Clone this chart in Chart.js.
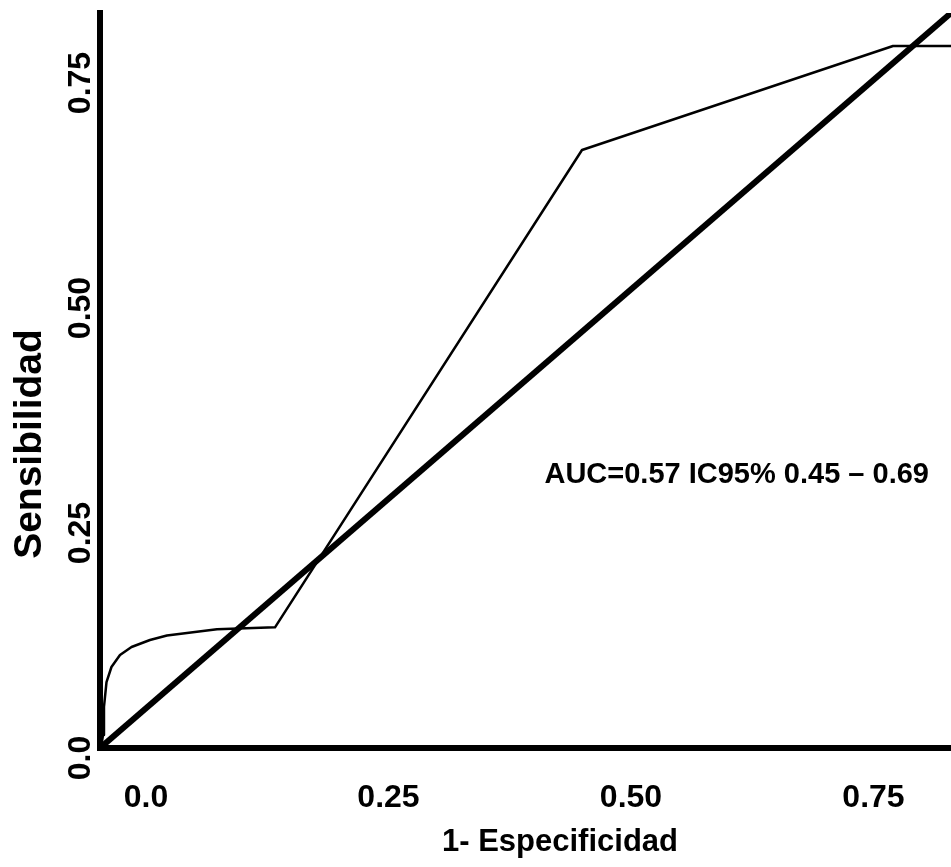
<!DOCTYPE html>
<html>
<head>
<meta charset="utf-8">
<title>Curva ROC</title>
<script src="https://cdn.jsdelivr.net/npm/chart.js@4.4.0/dist/chart.umd.min.js"></script>
<style>
    html, body { margin: 0; padding: 0; background: #fff; }
    canvas { display: block; }
</style>
</head>
<body>
<canvas id="rocChart" width="951" height="867"></canvas>
<script>
// axis ticks
const tickValues = [0, 0.25, 0.5, 0.75];
const tickLabels = ['0.0', '0.25', '0.50', '0.75'];

// ROC curve (1 - especificidad, sensibilidad)
const fpr = [-0.0464, -0.0443, -0.0433, -0.0407, -0.0356, -0.0268, -0.0149, 0.0041, 0.0216, 0.0732, 0.133, 0.4495, 0.7701, 0.839];
const tpr = [0.0111, 0.0256, 0.0567, 0.0844, 0.1011, 0.1144, 0.1233, 0.1311, 0.1361, 0.143, 0.1452, 0.6756, 0.7911, 0.7911];

// reference diagonal
const diagX = [-0.0474, 0.8299];
const diagY = [0.0111, 0.8278];

// visible range of the axes
const xRange = [-0.0474, 0.8299];
const yRange = [0.0111, 0.8278];

const aucText = 'AUC=0.57 IC95% 0.45 \u2013 0.69';
const xTitle = '1- Especificidad';
const yTitle = 'Sensibilidad';

const fontFamily = '"Liberation Sans", Arial, Helvetica, sans-serif';

function toPoints(xs, ys) {
    return xs.map((x, i) => ({ x: x, y: ys[i] }));
}

function tickLabel(value) {
    const i = tickValues.indexOf(value);
    return i >= 0 ? tickLabels[i] : '';
}

// AUC note and axis titles
const textPlugin = {
    id: 'rocText',
    afterDraw(chart) {
        const ctx = chart.ctx;
        const xs = chart.scales.x;
        const ys = chart.scales.y;
        ctx.save();
        ctx.fillStyle = '#000';
        ctx.textAlign = 'center';
        ctx.textBaseline = 'middle';

        ctx.font = 'bold 29px ' + fontFamily;
        ctx.fillText(aucText, xs.getPixelForValue(0.609), ys.getPixelForValue(0.314));

        ctx.font = 'bold 31px ' + fontFamily;
        ctx.fillText(xTitle, 560, 842);

        ctx.font = 'bold 39px ' + fontFamily;
        ctx.translate(30, 444);
        ctx.rotate(-Math.PI / 2);
        ctx.fillText(yTitle, 0, 0);
        ctx.restore();
    }
};

const ctx = document.getElementById('rocChart');

new Chart(ctx, {
    type: 'line',
    data: {
        datasets: [{
            label: 'Referencia',
            data: toPoints(diagX, diagY),
            borderColor: '#000',
            borderWidth: 6,
            pointRadius: 0,
            fill: false,
            tension: 0
        }, {
            label: 'ROC',
            data: toPoints(fpr, tpr),
            borderColor: '#000',
            borderWidth: 2.5,
            borderJoinStyle: 'round',
            pointRadius: 0,
            fill: false,
            tension: 0
        }]
    },
    options: {
        responsive: false,
        animation: false,
        devicePixelRatio: 1,
        layout: {
            padding: { top: 13, right: 0, bottom: 0, left: 0 }
        },
        plugins: {
            legend: { display: false },
            tooltip: { enabled: false }
        },
        scales: {
            x: {
                type: 'linear',
                min: xRange[0],
                max: xRange[1],
                afterBuildTicks: function(scale) {
                    scale.ticks = tickValues.map(v => ({ value: v }));
                },
                afterFit: function(scale) {
                    scale.height = 119;
                },
                grid: { display: false, drawTicks: false },
                border: { display: true, color: '#000', width: 6 },
                ticks: {
                    autoSkip: false,
                    maxRotation: 0,
                    padding: 31,
                    color: '#000',
                    font: { family: fontFamily, size: 32, weight: 'bold' },
                    callback: tickLabel
                }
            },
            y: {
                type: 'linear',
                min: yRange[0],
                max: yRange[1],
                afterBuildTicks: function(scale) {
                    scale.ticks = tickValues.map(v => ({ value: v }));
                },
                afterFit: function(scale) {
                    scale.width = 100;
                },
                grid: { display: false, drawTicks: false },
                border: { display: true, color: '#000', width: 6 },
                ticks: {
                    autoSkip: false,
                    minRotation: 90,
                    maxRotation: 90,
                    crossAlign: 'center',
                    padding: -12,
                    color: '#000',
                    font: { family: fontFamily, size: 32, weight: 'bold' },
                    callback: tickLabel
                }
            }
        }
    },
    plugins: [textPlugin]
});
</script>
</body>
</html>
